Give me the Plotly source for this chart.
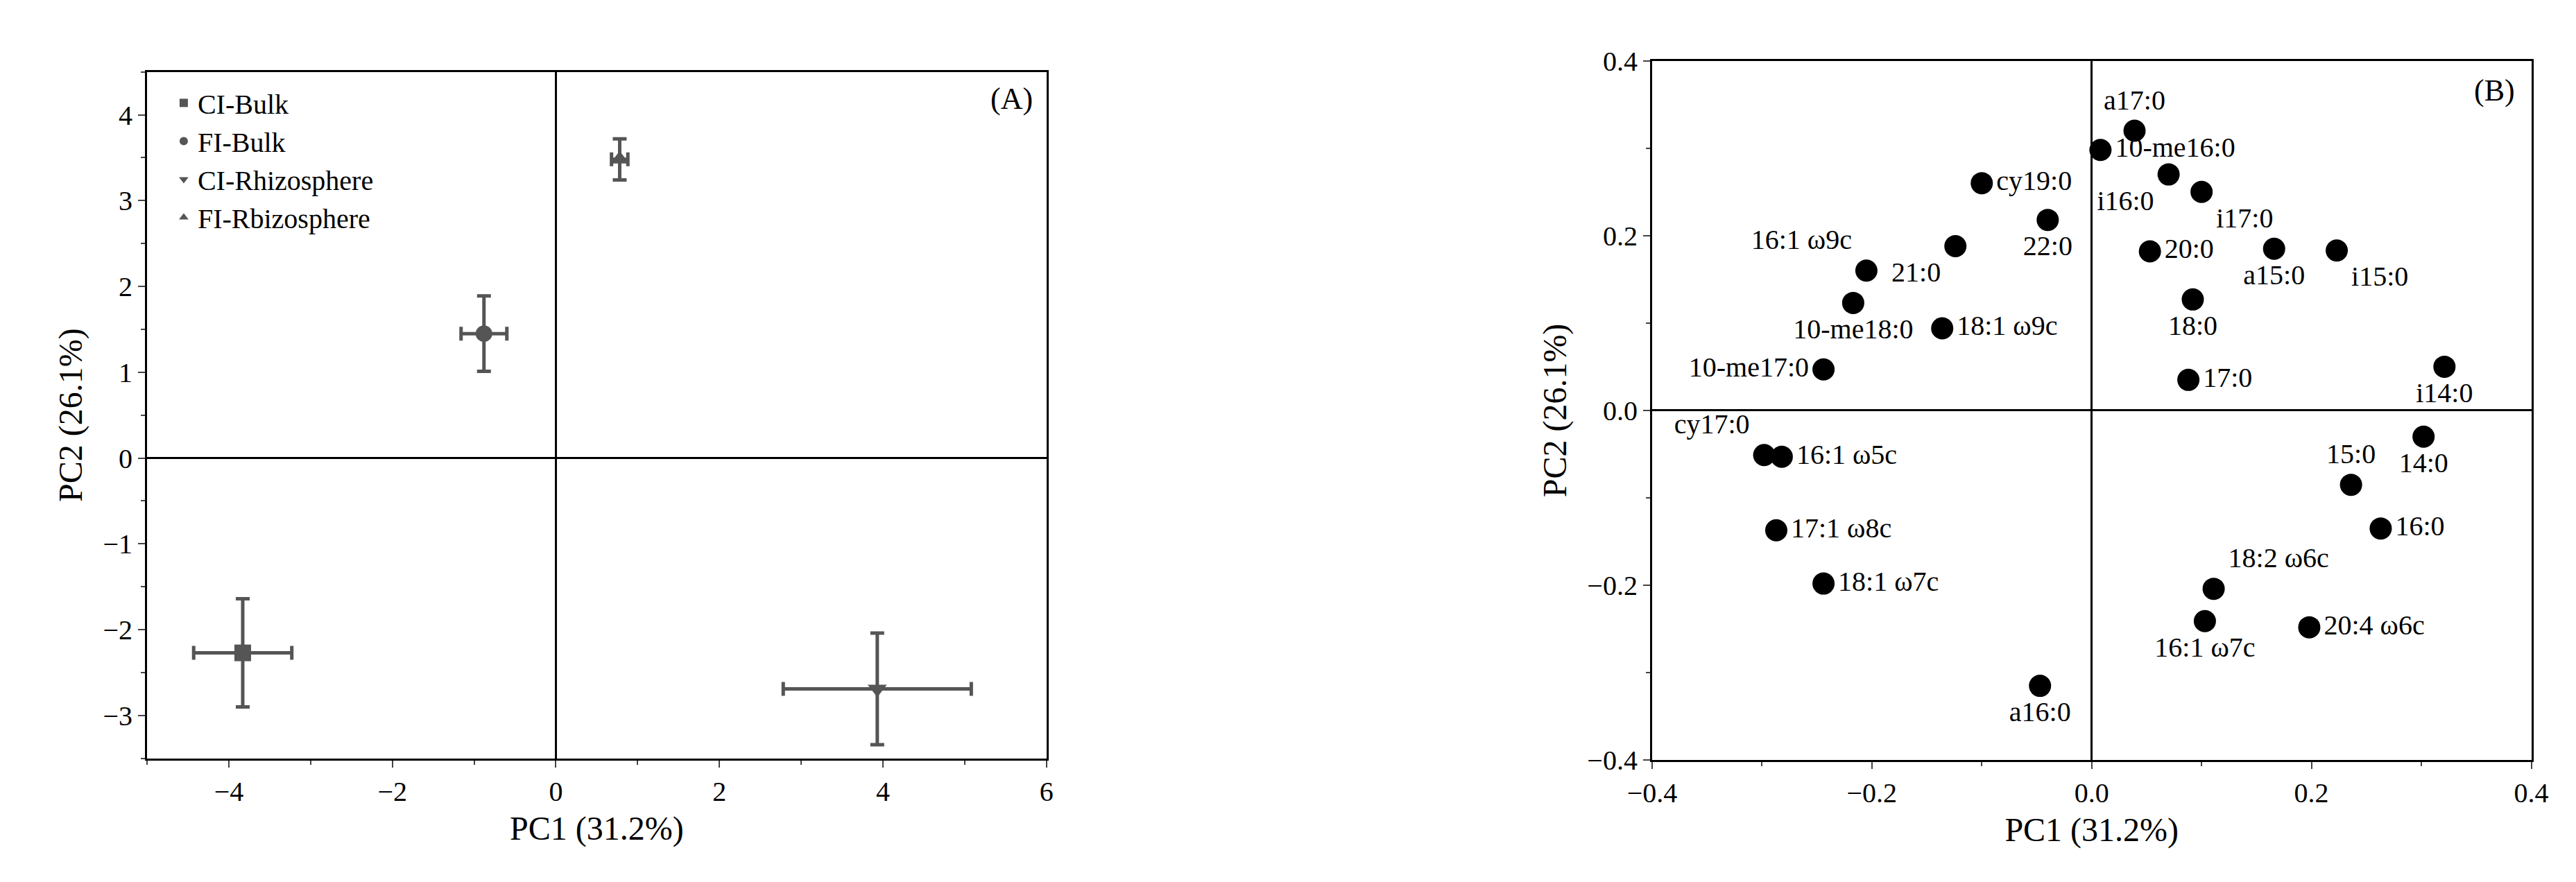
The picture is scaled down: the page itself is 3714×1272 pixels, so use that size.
import plotly.graph_objects as go
from plotly.subplots import make_subplots

# panel A: group scores
groups = ["CI-Bulk", "FI-Bulk", "CI-Rhizosphere", "FI-Rbizosphere"]
grp_x = [-3.83, -0.88, 3.93, 0.78]
grp_y = [-2.27, 1.45, -2.69, 3.48]
grp_xerr = [0.60, 0.28, 1.15, 0.10]
grp_yerr = [0.63, 0.44, 0.65, 0.24]
grp_symbol = ["square", "circle", "triangle-down", "triangle-up"]

# panel B: PLFA loadings
plfa = ["a17:0", "10-me16:0", "i16:0", "i17:0", "cy19:0", "22:0", "21:0", "16:1 ω9c",
        "10-me18:0", "18:1 ω9c", "10-me17:0", "20:0", "a15:0", "i15:0", "18:0", "17:0",
        "i14:0", "14:0", "15:0", "16:0", "18:2 ω6c", "16:1 ω7c", "20:4 ω6c", "a16:0",
        "cy17:0", "16:1 ω5c", "17:1 ω8c", "18:1 ω7c"]
pc1 = [0.039, 0.008, 0.070, 0.100, -0.100, -0.040, -0.124, -0.205,
       -0.217, -0.136, -0.244, 0.053, 0.166, 0.223, 0.092, 0.088,
       0.321, 0.302, 0.236, 0.263, 0.111, 0.103, 0.198, -0.047,
       -0.298, -0.282, -0.287, -0.244]
pc2 = [0.320, 0.298, 0.270, 0.250, 0.260, 0.218, 0.188, 0.160,
       0.123, 0.094, 0.047, 0.182, 0.185, 0.183, 0.127, 0.035,
       0.050, -0.030, -0.085, -0.135, -0.204, -0.241, -0.248, -0.315,
       -0.051, -0.053, -0.137, -0.198]
pos = ["top center", "middle right", "bottom left", "bottom right", "middle right", "bottom center",
       "bottom left", "top left", "bottom center", "middle right", "middle left", "middle right",
       "bottom center", "bottom right", "bottom center", "middle right", "bottom center",
       "bottom center", "top center", "middle right", "top right", "bottom center",
       "middle right", "bottom center", "top left", "middle right", "middle right", "middle right"]

font = "Liberation Serif"
grey = "#555555"

fig = make_subplots(rows=1, cols=2)

for i in range(len(groups)):
    fig.add_trace(go.Scatter(
        x=[grp_x[i]], y=[grp_y[i]], mode="markers", name=groups[i],
        marker=dict(symbol=grp_symbol[i], size=24, color=grey),
        error_x=dict(type="data", array=[grp_xerr[i]], color=grey, thickness=5, width=10),
        error_y=dict(type="data", array=[grp_yerr[i]], color=grey, thickness=5, width=10),
    ), row=1, col=1)

fig.add_trace(go.Scatter(
    x=pc1, y=pc2, mode="markers+text", text=plfa, textposition=pos,
    marker=dict(size=32, color="black"), showlegend=False,
    textfont=dict(family=font, size=40, color="black"),
), row=1, col=2)

ax = dict(showline=True, mirror=True, linecolor="black", linewidth=3, ticks="outside",
          ticklen=10, tickwidth=2, showgrid=False, zeroline=True, zerolinecolor="black",
          zerolinewidth=3, tickfont=dict(family=font, size=40, color="black"),
          title_font=dict(family=font, size=48, color="black"))

fig.update_xaxes(ax, range=[-5, 6], dtick=2, minor=dict(dtick=1, ticks="outside", ticklen=6),
                 title_text="PC1 (31.2%)", domain=[0.046, 0.401], row=1, col=1)
fig.update_yaxes(ax, range=[-3.5, 4.5], dtick=1, minor=dict(dtick=0.5, ticks="outside", ticklen=6),
                 title_text="PC2 (26.1%)", domain=[0.133, 0.94], row=1, col=1)
fig.update_xaxes(ax, range=[-0.4, 0.4], dtick=0.2, tickformat=".1f",
                 minor=dict(dtick=0.1, ticks="outside", ticklen=6),
                 title_text="PC1 (31.2%)", domain=[0.640, 0.987], row=1, col=2)
fig.update_yaxes(ax, range=[-0.4, 0.4], dtick=0.2, tickformat=".1f",
                 minor=dict(dtick=0.1, ticks="outside", ticklen=6),
                 title_text="PC2 (26.1%)", domain=[0.131, 0.953], row=1, col=2)

fig.add_annotation(text="(A)", x=0.396, y=0.93, xref="paper", yref="paper", xanchor="right",
                   yanchor="top", showarrow=False, font=dict(family=font, size=44, color="black"))
fig.add_annotation(text="(B)", x=0.981, y=0.94, xref="paper", yref="paper", xanchor="right",
                   yanchor="top", showarrow=False, font=dict(family=font, size=44, color="black"))

fig.update_layout(
    width=3714, height=1272, paper_bgcolor="white", plot_bgcolor="white",
    margin=dict(l=0, r=0, t=0, b=0),
    legend=dict(x=0.055, y=0.93, xanchor="left", yanchor="top", bgcolor="rgba(0,0,0,0)",
                font=dict(family=font, size=40, color="black"), itemsizing="constant"),
)

fig.write_html("out.html")
